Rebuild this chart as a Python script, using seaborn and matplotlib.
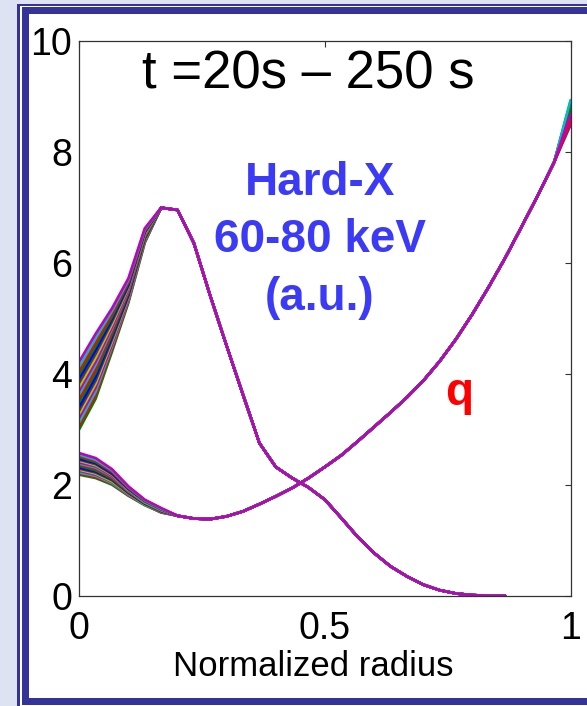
import numpy as np
import pandas as pd
import seaborn as sns
import matplotlib.pyplot as plt
from matplotlib.patches import Rectangle

# radial grid of the profiles, 0 .. 1 in 30 steps
radius = np.linspace(0, 1, 31)

# hard-X 60-80 keV profile, part that changes in time (r = 0 .. 0.133), one row per time slice
hx_core = [
    [3.00, 3.55, 4.40, 5.28, 6.36],
    [3.07, 3.62, 4.45, 5.31, 6.38],
    [3.13, 3.68, 4.49, 5.33, 6.39],
    [3.21, 3.75, 4.53, 5.35, 6.40],
    [3.28, 3.82, 4.58, 5.38, 6.42],
    [3.34, 3.88, 4.62, 5.40, 6.43],
    [3.41, 3.95, 4.67, 5.43, 6.45],
    [3.49, 4.02, 4.71, 5.46, 6.46],
    [3.56, 4.09, 4.76, 5.48, 6.48],
    [3.63, 4.16, 4.81, 5.51, 6.50],
    [3.70, 4.22, 4.84, 5.53, 6.51],
    [3.77, 4.29, 4.89, 5.56, 6.52],
    [3.84, 4.36, 4.94, 5.58, 6.54],
    [3.92, 4.43, 4.99, 5.61, 6.56],
    [3.99, 4.50, 5.03, 5.64, 6.57],
    [4.06, 4.57, 5.08, 5.66, 6.59],
    [4.13, 4.64, 5.13, 5.69, 6.60],
    [4.22, 4.72, 5.18, 5.72, 6.62],
]
# same for every time slice, r = 0.167 .. 0.867
hx_tail = [6.99, 6.95, 6.35, 5.40, 4.50, 3.62, 2.75, 2.32, 2.12, 1.95, 1.73,
           1.40, 1.06, 0.77, 0.53, 0.35, 0.20, 0.10, 0.04, 0.01, 0.00, 0.00]

# safety factor q, r = 0 .. 0.167
q_core = [
    [2.18, 2.12, 2.00, 1.80, 1.63, 1.50],
    [2.20, 2.14, 2.02, 1.81, 1.64, 1.50],
    [2.22, 2.16, 2.03, 1.82, 1.64, 1.51],
    [2.25, 2.18, 2.05, 1.83, 1.65, 1.51],
    [2.27, 2.20, 2.06, 1.84, 1.65, 1.52],
    [2.29, 2.22, 2.08, 1.85, 1.66, 1.52],
    [2.31, 2.24, 2.10, 1.86, 1.66, 1.53],
    [2.34, 2.26, 2.11, 1.87, 1.67, 1.53],
    [2.36, 2.29, 2.13, 1.88, 1.68, 1.54],
    [2.38, 2.31, 2.15, 1.89, 1.68, 1.54],
    [2.40, 2.33, 2.16, 1.90, 1.69, 1.55],
    [2.43, 2.35, 2.18, 1.91, 1.69, 1.55],
    [2.45, 2.37, 2.19, 1.92, 1.70, 1.56],
    [2.47, 2.39, 2.21, 1.93, 1.71, 1.56],
    [2.50, 2.41, 2.23, 1.94, 1.71, 1.56],
    [2.52, 2.43, 2.24, 1.95, 1.72, 1.57],
    [2.54, 2.45, 2.26, 1.96, 1.72, 1.57],
    [2.57, 2.48, 2.28, 1.97, 1.73, 1.58],
]
# r = 0.2 .. 0.967
q_tail = [1.44, 1.39, 1.38, 1.43, 1.52, 1.65, 1.79, 1.94, 2.12, 2.32, 2.53, 2.78,
          3.04, 3.30, 3.57, 3.87, 4.22, 4.62, 5.07, 5.56, 6.08, 6.64, 7.21, 7.81]
# q at the edge (r = 1)
q_edge = [8.62, 8.70, 8.55, 8.78, 8.66, 8.48, 8.74, 8.90, 8.60,
          8.83, 8.52, 8.70, 8.88, 8.64, 8.76, 8.58, 8.93, 8.68]

MATLAB_COLORS = ['#0000ff', '#008000', '#ff0000', '#00bfbf', '#bf00bf', '#bfbf00', '#404040']
BORDER = '#333399'


def build_frame(core, tail, edge=None):
    """Long table: one line per time slice."""
    rows = []
    for k, c in enumerate(core):
        vals = list(c) + tail + ([edge[k]] if edge else [])
        for r, v in zip(radius[:len(vals)], vals):
            rows.append({'radius': r, 'value': v, 'curve': f'c{k:02d}'})
    return pd.DataFrame(rows)


df_hx = build_frame(hx_core, hx_tail)
df_q = build_frame(q_core, q_tail, q_edge)
# colour cycle shifted so the last slice drawn (on top) is magenta
palette = {f'c{k:02d}': MATLAB_COLORS[(k + 1) % 7] for k in range(len(hx_core))}

sns.set_theme(style='white')
plt.rcParams['font.family'] = ['Liberation Sans', 'DejaVu Sans']

W, H = 587, 706
fig = plt.figure(figsize=(W / 100, H / 100), dpi=100)
fig.patch.set_facecolor('#dde3f3')


def frame_rect(x0, y0, x1, y1, color):
    # pixel coords (top-left origin) -> figure fraction
    fig.add_artist(Rectangle((x0 / W, 1 - y1 / H), (x1 - x0) / W, (y1 - y0) / H,
                             transform=fig.transFigure, facecolor=color,
                             edgecolor='none', zorder=-5))


frame_rect(17, 4, 640, 760, BORDER)
frame_rect(20, 6, 640, 760, 'white')
frame_rect(22, 7, 640, 705, BORDER)
frame_rect(29, 14, 640, 698, 'white')

ax = fig.add_axes([79.3 / W, 1 - 595.7 / H, 491.2 / W, 555 / H])
ax.set_facecolor('white')

sns.lineplot(data=df_hx, x='radius', y='value', hue='curve', palette=palette,
             estimator=None, sort=False, legend=False, lw=1.9, ax=ax)
sns.lineplot(data=df_q, x='radius', y='value', hue='curve', palette=palette,
             estimator=None, sort=False, legend=False, lw=1.9, ax=ax)

ax.set_xlim(0, 1)
ax.set_ylim(0, 10)
ax.set_xticks([0, 0.5, 1])
ax.set_xticklabels(['0', '0.5', '1'])
ax.set_yticks([0, 2, 4, 6, 8, 10])
ax.set_yticklabels(['0', '2', '4', '6', '8', '10'])
ax.tick_params(direction='in', length=4.5, width=0.8, color='#333333',
               top=True, right=True, labelsize=27, labelcolor='black')
ax.tick_params(axis='y', pad=5)
ax.tick_params(axis='x', pad=11)
for sp in ax.spines.values():
    sp.set_color('#333333')
    sp.set_linewidth(0.9)

ax.set_xlabel('Normalized radius', fontsize=25, color='black', labelpad=2)
ax.xaxis.label.set_x(0.476)
ax.set_ylabel('')

ax.text(0.466, 9.13, 't =20s \u2013 250 s', fontsize=38, ha='center', va='baseline', color='black')
blue = '#3b3bf7'
ax.text(0.49, 7.22, 'Hard-X', fontsize=33, fontweight='bold', color=blue, ha='center', va='baseline')
ax.text(0.49, 6.19, '60-80 keV', fontsize=33, fontweight='bold', color=blue, ha='center', va='baseline')
ax.text(0.49, 5.15, '(a.u.)', fontsize=33, fontweight='bold', color=blue, ha='center', va='baseline')
ax.text(0.773, 3.44, 'q', fontsize=33, fontweight='bold', color='#ff0000', ha='center', va='baseline')

fig.savefig('out.png', dpi=100, facecolor=fig.get_facecolor())
